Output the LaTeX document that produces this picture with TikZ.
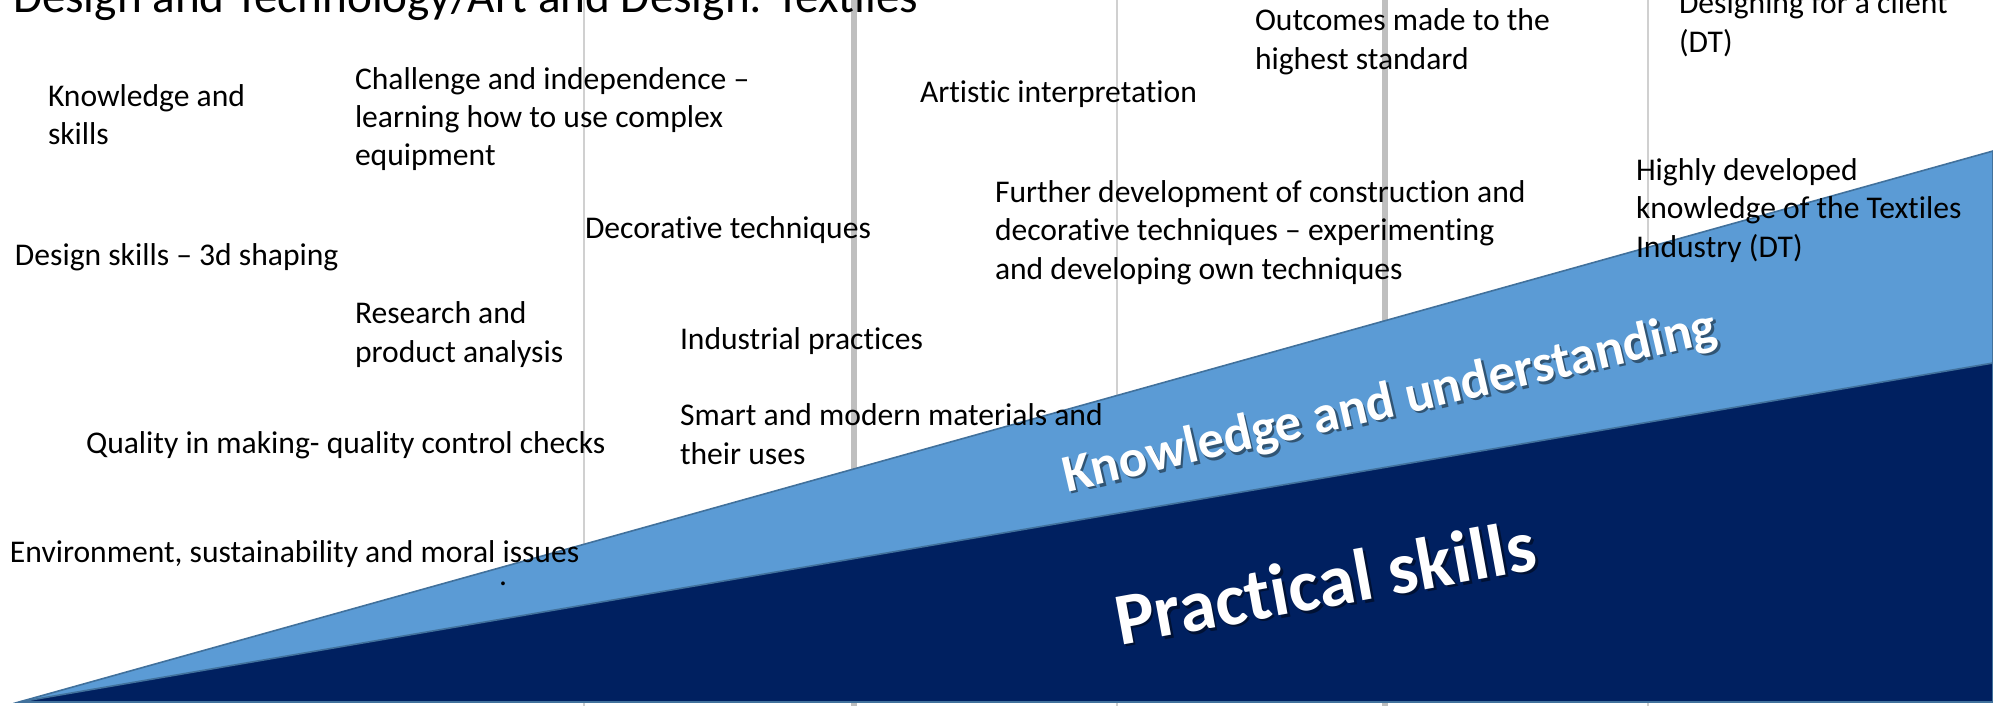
\documentclass[tikz,border=0pt]{standalone}
\usepackage{fontspec}
\setmainfont{Carlito}[Ligatures=NoCommon]
\definecolor{lightband}{HTML}{5B9BD5}
\definecolor{darkband}{HTML}{002060}
\definecolor{edgeblue}{HTML}{41719C}
\definecolor{thinrule}{HTML}{D0D0D0}
\definecolor{thickrule}{HTML}{BFBFBF}
\begin{document}
\begin{tikzpicture}[x=0.5pt,y=-0.5pt,
  lbl/.style={anchor=base west, inner sep=0pt, outer sep=0pt, align=left,
              font=\fontsize{15.8}{19.25}\selectfont, text=black},
  titlelbl/.style={anchor=base west, inner sep=0pt, outer sep=0pt,
              font=\fontsize{23.6}{28}\selectfont, text=black},
  thinline/.style={draw=thinrule, line width=0.75pt},
  thickline/.style={draw=thickrule, line width=3pt},
  band/.style={draw=edgeblue, line width=0.8pt, line join=miter},
  bigk/.style={anchor=base west, inner sep=0pt, outer sep=0pt,
              font=\bfseries\fontsize{26.5}{30}\selectfont, text=white, rotate=13},
  bigp/.style={anchor=base west, inner sep=0pt, outer sep=0pt,
              font=\bfseries\fontsize{37}{40}\selectfont, text=white, rotate=10.3},
  shade/.style={text=black, opacity=0.45}
]
\useasboundingbox (0,0) rectangle (1993,706);
\fill[white] (0,0) rectangle (1993,706);

% vertical rules
\coordinate (v1t) at (584,0);   \coordinate (v1b) at (584,706);
\coordinate (v2t) at (854,0);   \coordinate (v2b) at (854,706);
\coordinate (v3t) at (1117,0);  \coordinate (v3b) at (1117,706);
\coordinate (v4t) at (1385,0);  \coordinate (v4b) at (1385,706);
\coordinate (v5t) at (1648,0);  \coordinate (v5b) at (1648,706);
\draw[thinline] (v1t) -- (v1b);
\draw[thickline] (v2t) -- (v2b);
\draw[thinline] (v3t) -- (v3b);
\draw[thickline] (v4t) -- (v4b);
\draw[thinline] (v5t) -- (v5b);

% bands
\coordinate (apex) at (19,702);
\coordinate (lighttop) at (1993,151);
\coordinate (darktop) at (1993,363);
\coordinate (corner) at (1993,702);
\filldraw[band, fill=lightband] (apex) -- (lighttop) -- (corner) -- cycle;
\filldraw[band, fill=darkband] (apex) -- (darktop) -- (corner) -- cycle;

% title
\node[titlelbl] (title) at (13,13) {Design and Technology/Art and Design: Textiles};

% column texts (base anchor = baseline of the last line)
\node[lbl] (ks) at (48,145) {Knowledge and\\skills};
\node[lbl] (ci) at (355,166) {Challenge and independence --\\learning how to use complex\\equipment};
\node[lbl] (ds) at (15,265) {Design skills -- 3d shaping};
\node[lbl] (rp) at (355,362) {Research and\\product analysis};
\node[lbl] (qm) at (86,453) {Quality in making- quality control checks};
\node[lbl] (env) at (10,562) {Environment, sustainability and moral issues};
\node[lbl] (dot) at (499,585) {.};

\node[lbl] (dec) at (585,238) {Decorative techniques};
\node[lbl] (ind) at (680,349) {Industrial practices};
\node[lbl] (smart) at (680,464) {Smart and modern materials and\\their uses};

\node[lbl] (art) at (920,103) {Artistic interpretation};
\node[lbl] (fur) at (995,279) {Further development of construction and\\decorative techniques -- experimenting\\and developing own techniques};

\node[lbl] (out) at (1255,69.5) {Outcomes made to the\\highest standard};

\node[lbl] (cli) at (1679,52.5) {Designing for a client\\(DT)};
\node[lbl] (high) at (1636,257) {Highly developed\\knowledge of the Textiles\\Industry (DT)};

% band labels
\node[bigk, shade] (kus) at (1069.5,494.5) {Knowledge and understanding};
\node[bigk] (ku) at (1067,492) {Knowledge and understanding};
\node[bigp, shade] (pss) at (1122.5,647.5) {Practical skills};
\node[bigp] (ps) at (1120,645) {Practical skills};
\end{tikzpicture}
\end{document}
